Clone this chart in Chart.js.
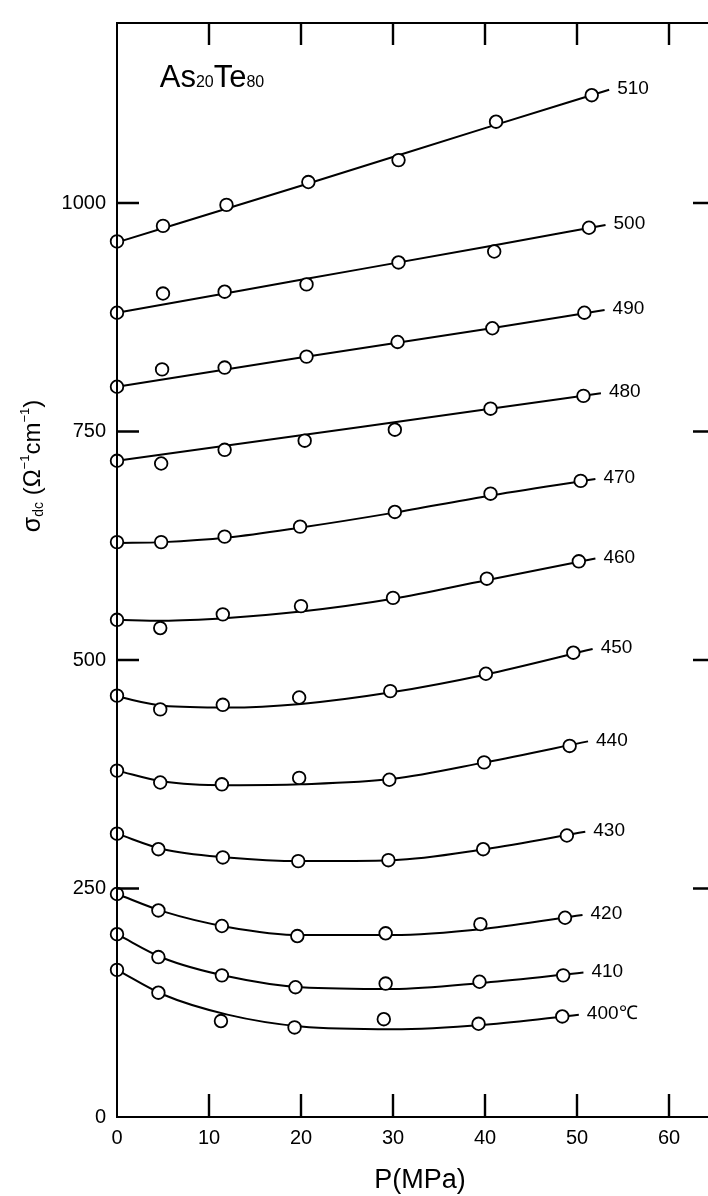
<!DOCTYPE html>
<html lang="en">
<head>
  <meta charset="UTF-8">
  <title>As20Te80 sigma dc vs P</title>
  <style>
    body { margin: 0; overflow: hidden; background: #fff; }
    .chartBox { width: 730px; height: 1196px; }
  </style>
</head>
<body>
<div class="chartBox">
  <canvas id="myChart" width="730" height="1196"></canvas>
</div>
<script src="https://cdn.jsdelivr.net/npm/chart.js"></script>
<script>
  // values: P in MPa, sigma in ohm^-1 cm^-1
  const xTicks = [0, 10, 20, 30, 40, 50, 60];
  const yTicks = [0, 250, 500, 750, 1000];
  const tempLabels = ['510', '500', '490', '480', '470', '460', '450', '440', '430', '420', '410', '400℃'];

  const measP = [
    [0, 5.0, 11.9, 20.8, 30.6, 41.2, 51.6],
    [0, 5.0, 11.7, 20.6, 30.6, 41.0, 51.3],
    [0, 4.9, 11.7, 20.6, 30.5, 40.8, 50.8],
    [0, 4.8, 11.7, 20.4, 30.2, 40.6, 50.7],
    [0, 4.8, 11.7, 19.9, 30.2, 40.6, 50.4],
    [0, 4.7, 11.5, 20.0, 30.0, 40.2, 50.2],
    [0, 4.7, 11.5, 19.8, 29.7, 40.1, 49.6],
    [0, 4.7, 11.4, 19.8, 29.6, 39.9, 49.2],
    [0, 4.5, 11.5, 19.7, 29.5, 39.8, 48.9],
    [0, 4.5, 11.4, 19.6, 29.2, 39.5, 48.7],
    [0, 4.5, 11.4, 19.4, 29.2, 39.4, 48.5],
    [0, 4.5, 11.3, 19.3, 29.0, 39.3, 48.4]
  ];
  const measSigma = [
    [958, 975, 998, 1023, 1047, 1089, 1118],
    [880, 901, 903, 911, 935, 947, 973],
    [799, 818, 820, 832, 848, 863, 880],
    [718, 715, 730, 740, 752, 775, 789],
    [629, 629, 635, 646, 662, 682, 696],
    [544, 535, 550, 559, 568, 589, 608],
    [461, 446, 451, 459, 466, 485, 508],
    [379, 366, 364, 371, 369, 388, 406],
    [310, 293, 284, 280, 281, 293, 308],
    [244, 226, 209, 198, 201, 211, 218],
    [200, 175, 155, 142, 146, 148, 155],
    [161, 136, 105, 98, 107, 102, 110]
  ];

  // the drawn (fitted) curves, read at a few pressures
  const fitP = [
    [0, 20, 40, 53.5],
    [0, 20, 40, 53.1],
    [0, 20, 40, 53.0],
    [0, 20, 40, 52.6],
    [0, 5, 12, 20, 30, 40, 52.0],
    [0, 5, 12, 20, 30, 40, 52.0],
    [0, 5, 12, 20, 30, 40, 51.7],
    [0, 5, 12, 20, 30, 40, 51.2],
    [0, 5, 12, 20, 30, 40, 50.9],
    [0, 5, 12, 20, 30, 40, 50.6],
    [0, 5, 12, 20, 30, 40, 50.7],
    [0, 5, 12, 20, 30, 40, 50.2]
  ];
  const fitSigma = [
    [957, 1019, 1082, 1124],
    [880, 916, 952, 976],
    [799, 831, 862, 883],
    [718, 746, 774, 792],
    [628, 629, 634, 645, 661, 679, 698],
    [544, 543, 546, 553, 567, 587, 611],
    [460, 450, 448, 452, 465, 484, 512],
    [379, 367, 363, 364, 370, 388, 411],
    [310, 293, 284, 280, 281, 293, 312],
    [244, 225, 208, 199, 199, 206, 221],
    [200, 174, 154, 142, 140, 147, 158],
    [161, 134, 112, 99, 96, 101, 112]
  ];

  const FONT = '"Liberation Sans", Arial, sans-serif';

  const datasets = [];
  for (let i = 0; i < tempLabels.length; i++) {
    datasets.push({
      label: tempLabels[i] + ' curve',
      data: fitP[i].map((p, j) => ({x: p, y: fitSigma[i][j]})),
      showLine: true,
      borderColor: '#000',
      borderWidth: 2,
      pointRadius: 0,
      cubicInterpolationMode: 'monotone',
      order: 1,
      clip: false
    });
    datasets.push({
      label: tempLabels[i],
      data: measP[i].map((p, j) => ({x: p, y: measSigma[i][j]})),
      showLine: false,
      pointRadius: 6.3,
      pointBorderWidth: 1.8,
      pointBorderColor: '#000',
      pointBackgroundColor: '#fff',
      order: 0,
      clip: false
    });
  }

  function drawParts(ctx, parts, x, y) {
    // parts: [text, size, dy], drawn centred on x
    let total = 0;
    parts.forEach(p => {
      ctx.font = p[1] + 'px ' + FONT;
      total += ctx.measureText(p[0]).width;
    });
    let cx = x - total / 2;
    parts.forEach(p => {
      ctx.font = p[1] + 'px ' + FONT;
      ctx.fillText(p[0], cx, y + p[2]);
      cx += ctx.measureText(p[0]).width;
    });
  }

  const decor = {
    id: 'decor',
    afterDraw(chart) {
      const ctx = chart.ctx;
      const a = chart.chartArea;
      const xs = chart.scales.x;
      const ys = chart.scales.y;
      ctx.save();
      ctx.strokeStyle = '#000';
      ctx.fillStyle = '#000';
      ctx.lineWidth = 2;
      ctx.strokeRect(a.left, a.top, a.right - a.left, a.bottom - a.top);

      // inward ticks on all four sides
      ctx.lineWidth = 2.4;
      ctx.beginPath();
      xTicks.forEach(v => {
        if (v === 0) return;
        const px = xs.getPixelForValue(v);
        ctx.moveTo(px, a.bottom); ctx.lineTo(px, a.bottom - 23);
        ctx.moveTo(px, a.top); ctx.lineTo(px, a.top + 22);
      });
      yTicks.forEach(v => {
        if (v === 0) return;
        const py = ys.getPixelForValue(v);
        ctx.moveTo(a.left, py); ctx.lineTo(a.left + 22, py);
        ctx.moveTo(a.right, py); ctx.lineTo(a.right - 22, py);
      });
      ctx.stroke();

      // temperature labels at the end of each curve
      ctx.textBaseline = 'middle';
      ctx.textAlign = 'left';
      ctx.font = '19px ' + FONT;
      for (let i = 0; i < tempLabels.length; i++) {
        const meta = chart.getDatasetMeta(i * 2);
        const last = meta.data[meta.data.length - 1];
        ctx.fillText(tempLabels[i], last.x + 8, last.y - 1);
      }

      // composition
      ctx.textBaseline = 'alphabetic';
      drawParts(ctx, [['As', 31, 0], ['20', 16, 0], ['Te', 31, 0], ['80', 16, 0]], 212, 87);

      // x title
      ctx.textBaseline = 'middle';
      ctx.font = '27px ' + FONT;
      ctx.textAlign = 'center';
      ctx.fillText('P(MPa)', 420, 1181);

      // y title, rotated
      ctx.textAlign = 'left';
      ctx.textBaseline = 'alphabetic';
      ctx.translate(40, 466);
      ctx.rotate(-Math.PI / 2);
      drawParts(ctx, [['σ', 25, 0], ['dc', 14, 3], [' (', 24, 0], ['Ω', 24, 0], ['−1', 13, -11],
        ['cm', 24, 0], ['−1', 13, -11], [')', 24, 0]], 0, 0);
      ctx.restore();
    }
  };

  const ctx = document.getElementById('myChart');
  const myChart = new Chart(ctx, {
    type: 'scatter',
    data: {datasets: datasets},
    options: {
      responsive: false,
      maintainAspectRatio: false,
      animation: false,
      layout: {padding: {left: 0, top: 13, right: 15, bottom: 0}},
      plugins: {
        legend: {display: false},
        tooltip: {enabled: false}
      },
      scales: {
        x: {
          type: 'linear',
          min: 0,
          max: 65,
          grid: {display: false, drawTicks: false},
          border: {display: false},
          afterBuildTicks: s => { s.ticks = xTicks.map(v => ({value: v})); },
          afterFit: s => { s.height = 79; },
          ticks: {
            padding: 9,
            color: '#000',
            maxRotation: 0,
            font: {family: FONT, size: 20},
            callback: v => String(v)
          }
        },
        y: {
          type: 'linear',
          min: 0,
          max: 1197,
          grid: {display: false, drawTicks: false},
          border: {display: false},
          afterBuildTicks: s => { s.ticks = yTicks.map(v => ({value: v})); },
          afterFit: s => { s.width = 117; },
          ticks: {
            padding: 11,
            color: '#000',
            font: {family: FONT, size: 20},
            callback: v => String(v)
          }
        }
      }
    },
    plugins: [decor]
  });
</script>
</body>
</html>
